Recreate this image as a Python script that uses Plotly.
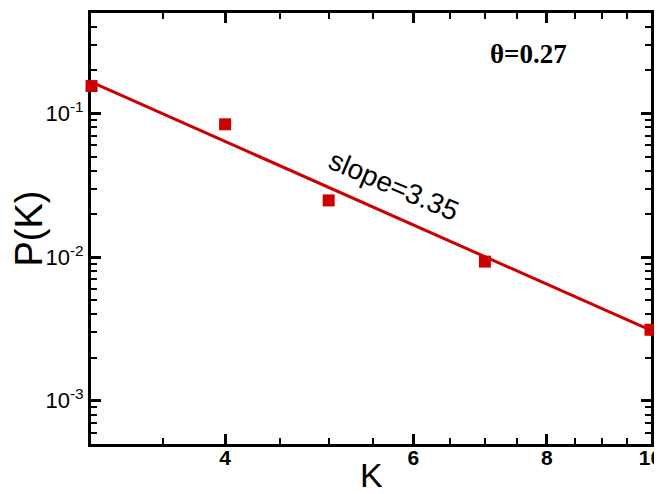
import math
import plotly.graph_objects as go

# data
k_vals = [3.0, 4.0, 5.0, 7.0, 10.0]
p_vals = [0.155, 0.084, 0.0248, 0.0093, 0.00312]
fit_k = [3.0, 10.0]
fit_p = [0.165, 0.0031]
x_major = [4, 6, 8, 10]
x_major_text = ["<b>4</b>", "<b>6</b>", "<b>8</b>", "<b>10</b>"]
x_minor = [3.5, 4.5, 5, 5.5, 6.5, 7, 7.5, 8.5, 9, 9.5]
y_major = [1e-3, 1e-2, 1e-1]
y_major_text = ["10<sup>-3</sup>", "10<sup>-2</sup>", "10<sup>-1</sup>"]
y_minor = [m * d for d in [1e-4, 1e-3, 1e-2, 1e-1] for m in range(2, 10)]
y_minor = [v for v in y_minor if 5e-4 < v < 0.5]
slope_label = "slope=3.35"
theta_label = "θ=0.27"

red = "#cc0000"
fig = go.Figure()
fig.add_trace(go.Scatter(x=fit_k, y=fit_p, mode="lines",
                         line=dict(color=red, width=3), showlegend=False, cliponaxis=False))
fig.add_trace(go.Scatter(x=k_vals, y=p_vals, mode="markers",
                         marker=dict(symbol="square", size=12, color=red),
                         showlegend=False, cliponaxis=False))

axis_common = dict(showline=True, linecolor="black", linewidth=3, mirror="allticks",
                   ticks="inside", ticklen=10, tickwidth=3, tickcolor="black",
                   showgrid=False, zeroline=False, layer="below traces",
                   automargin=False, ticklabeloverflow="allow")

fig.update_xaxes(type="log", range=[math.log10(3) - 0.0005, 1.0005], tickvals=x_major,
                 ticktext=x_major_text, ticklabelstandoff=-7,
                 tickfont=dict(family="Liberation Sans", size=21, color="black"),
                 minor=dict(ticks="inside", ticklen=6, tickwidth=2, tickcolor="black",
                            tickvals=x_minor, showgrid=False),
                 **axis_common)
fig.update_yaxes(type="log", range=[math.log10(5e-4), math.log10(0.5)], tickvals=y_major,
                 ticktext=y_major_text,
                 tickfont=dict(family="Liberation Sans", size=22, color="black"),
                 minor=dict(ticks="inside", ticklen=6, tickwidth=2, tickcolor="black",
                            tickvals=y_minor, showgrid=False),
                 **axis_common)

fig.add_annotation(x=math.log10(5.75), y=-1.50, xref="x", yref="y", text=slope_label,
                   showarrow=False, textangle=23,
                   font=dict(family="Liberation Sans", size=28, color="black"))
fig.add_annotation(x=0.886, y=-0.585, xref="x", yref="y", text="<b>" + theta_label + "</b>",
                   showarrow=False,
                   font=dict(family="Liberation Serif", size=27, color="black"))
fig.add_annotation(x=0, y=0.5, xref="paper", yref="paper", xshift=-63, text="P(K)",
                   showarrow=False, textangle=-90, xanchor="center", yanchor="middle",
                   font=dict(family="Liberation Sans", size=38, color="black"))
fig.add_annotation(x=0.5, y=0, xref="paper", yref="paper", yshift=-31, text="K",
                   showarrow=False, xanchor="center", yanchor="middle",
                   font=dict(family="Liberation Sans", size=34, color="black"))

fig.update_layout(width=654, height=486, margin=dict(l=83, r=11, t=5, b=50),
                  paper_bgcolor="white", plot_bgcolor="white")
fig.write_html("out.html")
